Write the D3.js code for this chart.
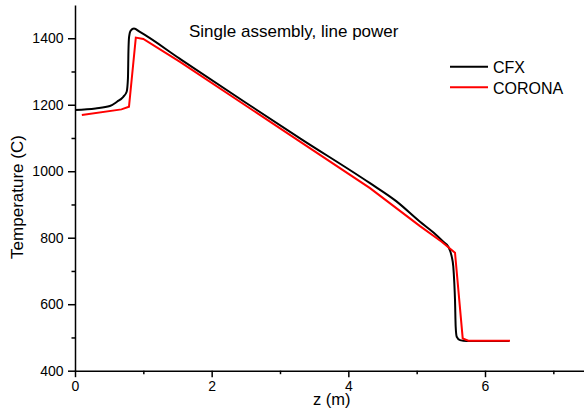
<!DOCTYPE html>
<html>
<head>
<meta charset="UTF-8">
<title>Single assembly, line power</title>
<script src="https://d3js.org/d3.v7.min.js"></script>
<style>
  body { margin: 0; background: #fff; }
  text { font-family: "Liberation Sans", Arial, sans-serif; fill: #000; }
</style>
</head>
<body>
<svg width="584" height="411"></svg>
<script>
  // data
  const cfxZ = [0, 0.3, 0.51, 0.615, 0.707, 0.756, 0.775, 0.782, 0.792, 0.815, 0.863, 0.95, 1.537, 2.5, 3.293, 4.317, 4.7, 5.049, 5.25, 5.39, 5.463, 5.513, 5.536, 5.551, 5.561, 5.571, 5.586, 5.634, 5.732, 6.356];
  const cfxT = [1184, 1189, 1196, 1209, 1224, 1239, 1280, 1360, 1405, 1423, 1429, 1419, 1338, 1206, 1099, 964, 910, 848, 815, 788, 773, 743, 713, 663, 613, 532, 502, 492, 489, 489];

  const coronaZ = [0.1, 0.68, 0.79, 0.89, 1.0, 1.537, 3.293, 4.317, 5.049, 5.366, 5.561, 5.674, 5.756, 6.366];
  const coronaT = [1169, 1186, 1194, 1402, 1398, 1329, 1089, 949, 835, 788, 755, 497, 490, 490];

  const xTicks = [0, 2, 4, 6];
  const xMinor = [1, 3, 5, 7];
  const yTicks = [400, 600, 800, 1000, 1200, 1400];
  const yMinor = [500, 700, 900, 1100, 1300];

  const series = [
    { name: "CFX", z: cfxZ, t: cfxT, color: "#000000", curve: d3.curveMonotoneX },
    { name: "CORONA", z: coronaZ, t: coronaT, color: "#ff0000", curve: d3.curveLinear }
  ];

  const svg = d3.select("svg");
  const mLeft = 75, mTop = 5, mRight = 587.5, mBottom = 370.7;

  const x = d3.scaleLinear().domain([0, 7.5]).range([mLeft, mRight]);
  const y = d3.scaleLinear().domain([400, 1500]).range([mBottom, mTop]);

  // minor ticks
  svg.append("g").attr("transform", `translate(0,${mBottom})`)
    .call(d3.axisBottom(x).tickValues(xMinor).tickSize(3.5).tickFormat(""))
    .call(g => g.select(".domain").remove());
  svg.append("g").attr("transform", `translate(${mLeft},0)`)
    .call(d3.axisLeft(y).tickValues(yMinor).tickSize(3.5).tickFormat(""))
    .call(g => g.select(".domain").remove());

  // major axes
  svg.append("g").attr("transform", `translate(0,${mBottom})`)
    .call(d3.axisBottom(x).tickValues(xTicks).tickFormat(d3.format("d"))
      .tickSize(6.5).tickSizeOuter(0).tickPadding(4));
  svg.append("g").attr("transform", `translate(${mLeft},0)`)
    .call(d3.axisLeft(y).tickValues(yTicks).tickFormat(d3.format("d"))
      .tickSize(7).tickSizeOuter(0).tickPadding(4.5));

  svg.selectAll(".tick line").attr("stroke", "#000").attr("stroke-width", 1.5);
  svg.selectAll(".domain").attr("stroke", "#000").attr("stroke-width", 1.5);
  svg.selectAll(".tick text")
    .style("font-family", '"Liberation Sans", Arial, sans-serif')
    .style("font-size", "14px").attr("fill", "#000");

  // lines
  series.forEach(s => {
    const pts = s.z.map((z, i) => [z, s.t[i]]);
    svg.append("path")
      .attr("d", d3.line().x(d => x(d[0])).y(d => y(d[1])).curve(s.curve)(pts))
      .attr("fill", "none")
      .attr("stroke", s.color)
      .attr("stroke-width", 2);
  });

  // title
  svg.append("text").attr("x", 189).attr("y", 37)
    .style("font-size", "17px").text("Single assembly, line power");

  // axis labels
  svg.append("text").attr("x", 313).attr("y", 405)
    .style("font-size", "16.5px").text("z (m)");
  svg.append("text").attr("transform", "translate(23,197) rotate(-90)")
    .attr("text-anchor", "middle").style("font-size", "17px").text("Temperature (C)");

  // legend
  const legend = svg.append("g");
  series.forEach((s, i) => {
    const ly = 66.7 + i * 20.5;
    legend.append("line").attr("x1", 450).attr("x2", 488).attr("y1", ly).attr("y2", ly)
      .attr("stroke", s.color).attr("stroke-width", 2);
    legend.append("text").attr("x", 493).attr("y", ly + 6.3)
      .style("font-size", "16px").text(s.name);
  });
</script>
</body>
</html>
